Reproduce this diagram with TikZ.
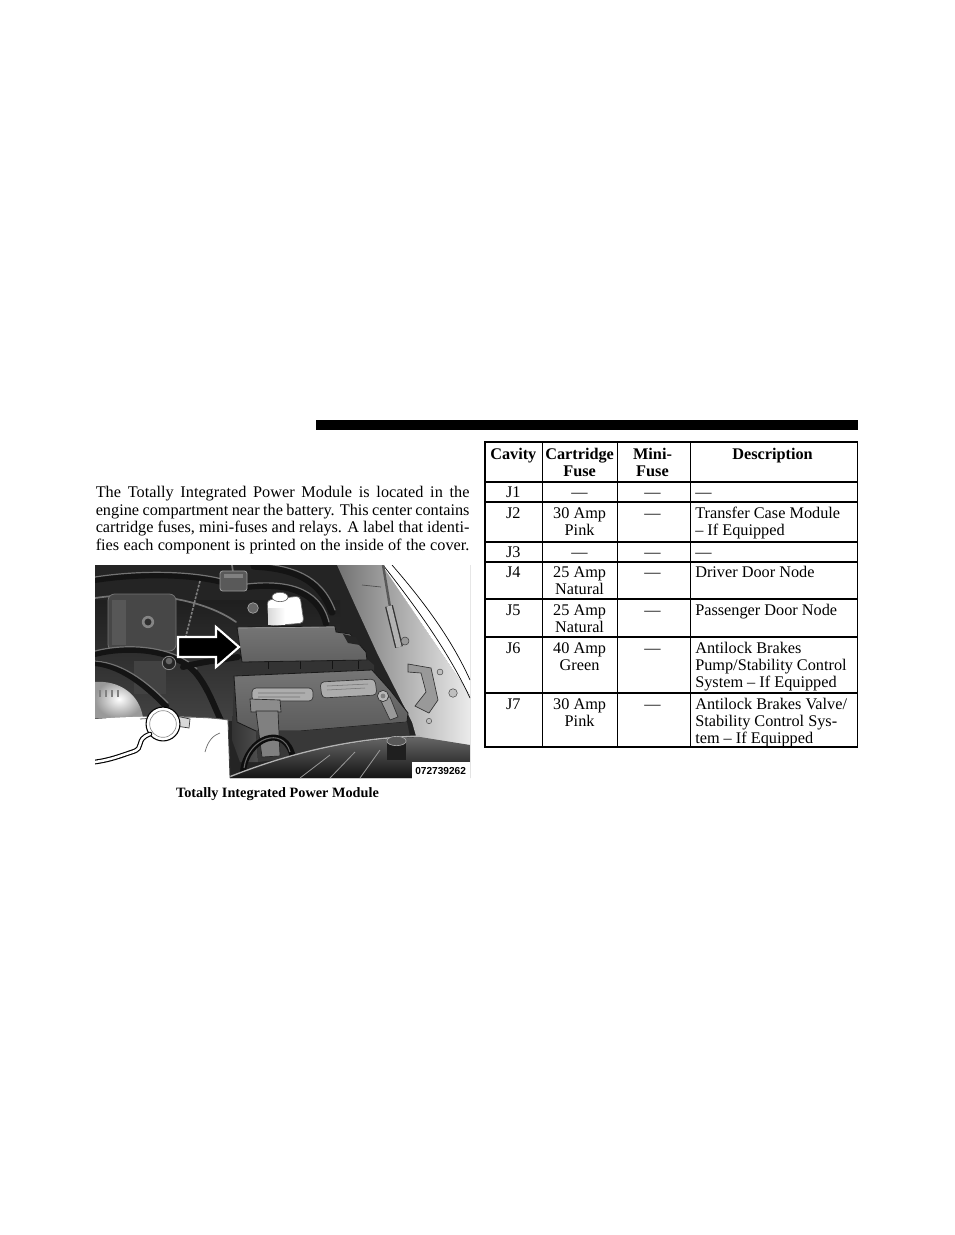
\documentclass[tikz,border=0pt]{standalone}
\usepackage{fontspec}
\setmainfont{Liberation Serif}
\newfontfamily\idfam{Liberation Sans}
\newcommand\tabfont{\fontsize{12.2}{14}\selectfont}
\newcommand\capfont{\fontsize{10.7}{12}\selectfont\bfseries}
\newcommand\idfont{\idfam\bfseries\fontsize{7.6}{8}\selectfont}
\begin{document}
\begin{tikzpicture}[x=0.75pt,y=-0.75pt,
  tl/.style={line width=0.9pt},
  tx/.style={inner sep=0pt,font=\tabfont},
  hd/.style={inner sep=0pt,font=\tabfont\bfseries},
  hose/.style={line width=4.5pt,draw=black!92,line cap=round},
  hl/.style={line width=0.9pt,draw=black!55,line cap=round},
  thinw/.style={line width=1.3pt,draw=black!55,line cap=round}]
\useasboundingbox (0,0) rectangle (954,1235);
\fill[white] (0,0) rectangle (954,1235);

% black bar
\fill[black] (316,420) rectangle (857.5,430);

% ---------- body text ----------
\node[tx,anchor=base west] (p1) at (95.5,497.3) {\makebox[280.3pt][s]{The Totally Integrated Power Module is located in the}};
\node[tx,anchor=base west] (p2) at (95.5,515.0) {\makebox[280.3pt][s]{engine compartment near the battery. This center contains}};
\node[tx,anchor=base west] (p3) at (95.5,532.7) {\makebox[280.3pt][s]{cartridge fuses, mini-fuses and relays. A label that identi-}};
\node[tx,anchor=base west] (p4) at (95.5,550.4) {\makebox[280.3pt][s]{fies each component is printed on the inside of the cover.}};

% ---------- illustration ----------
\begin{scope}
\clip (95,565) rectangle (470,778);
\fill[black!86] (95,565) -- (470,565) -- (470,778) -- (230,778) -- (228,719) -- (95,719) -- cycle;
\shade[top color=black!88,bottom color=black!74] (95,600) rectangle (340,720);
% inner fender panel and white fender
\shade[left color=black!55,right color=black!8] (337,565) -- (382,565) -- (470,695) -- (470,778) -- (428,778) -- (412,722) -- (378,655) -- (355,605) -- cycle;
\fill[white] (382,565) -- (470,565) -- (470,695) -- cycle;
\draw[line width=0.5pt] (383,565) .. controls (420,612) and (450,655) .. (470,698);
\draw[line width=0.5pt] (392,565) .. controls (425,603) and (452,640) .. (470,680);
\draw[line width=0.5pt,black!70] (362,585) -- (381,587);
% hood strut
\draw[line width=1.8pt,black!65] (383,565) -- (390,607);
\draw[line width=6pt,black!80] (389,606) -- (399,647);
\draw[line width=4pt,black!30] (389,606) -- (399,647);
\fill[black!40,draw=black!75] (405,641) circle (3pt);
% bracket and bolts on fender
\draw[fill=black!40,draw=black!80,line width=0.5pt] (408,664) -- (431,668) -- (438,700) -- (429,713) -- (415,706) -- (426,692) -- (421,673) -- (408,672) -- cycle;
\fill[black!25,draw=black!70,line width=0.4pt] (453,693) circle (3.2pt);
\fill[black!25,draw=black!70,line width=0.4pt] (440,672) circle (2.2pt);
\fill[black!25,draw=black!70,line width=0.4pt] (429,721) circle (2pt);

% top hoses and wires
\draw[hose] (95,580) .. controls (140,573) and (190,574) .. (222,582);
\draw[hl] (95,577) .. controls (140,570) and (190,571) .. (222,579);
\draw[hose,line width=5.5pt] (254,566) .. controls (292,568) and (320,578) .. (332,612);
\draw[hl] (254,563) .. controls (292,565) and (322,575) .. (335,610);
\draw[hose] (247,587) .. controls (280,583) and (318,588) .. (326,624);
\draw[hl] (247,584) .. controls (282,580) and (320,585) .. (329,622);
\draw[thinw] (95,598) .. controls (150,590) and (205,600) .. (236,622);
\draw[line width=1.2pt,black!50,dash pattern=on 2pt off 1pt] (200,581) .. controls (195,600) and (190,620) .. (183,648);
\draw[thinw] (233,572) -- (232,565);
% connector block
\fill[black!65,draw=black!40,rounded corners=2pt,line width=0.6pt] (220,571) rectangle (247,591);
\fill[black!50] (224,574) rectangle (243,578);
% bolt near connector
\fill[black!60,draw=black!35,line width=0.5pt] (253,608) circle (4pt);
% coolant reservoir
\fill[white,draw=black!60,line width=0.5pt,rounded corners=3pt] (267,600) -- (300,596) -- (304,623) -- (269,626) -- cycle;
\shade[left color=black!15,right color=white] (268,608) rectangle (285,624);
\fill[white,draw=black!60,line width=0.5pt] (280,597) ellipse (6pt and 3.5pt);

% engine block top left
\fill[black!72,rounded corners=5pt] (108,594) rectangle (176,651);
\draw[black!55,line width=0.6pt,rounded corners=5pt] (108,594) rectangle (176,651);
\fill[black!66] (112,600) rectangle (126,645);
\fill[black!48] (148,622) circle (4.6pt);
\fill[black!82] (148,622) circle (2.6pt);

% middle-left hoses
\fill[black!74] (134,661) rectangle (166,694);
\draw[hose] (95,654) .. controls (130,645) and (175,650) .. (195,672) .. controls (210,690) and (215,710) .. (222,722);
\draw[hl] (95,651) .. controls (130,642) and (176,647) .. (197,669);
\draw[hose] (95,663) .. controls (125,666) and (150,690) .. (166,706);
\draw[hl] (95,661) .. controls (126,663) and (152,687) .. (168,703);
\draw[hose] (183,667) .. controls (200,662) and (220,660) .. (238,657);
\fill[black!85,draw=black!45,line width=0.6pt] (169,663) circle (5pt);
\fill[black!60] (169,661) circle (2.5pt);
% pulley / gear
\shade[inner color=white,outer color=black!40] (95,682) .. controls (120,680) and (140,695) .. (143,718) -- (95,718) -- cycle;
\foreach \gx in {100,106,112,118} \draw[black!50,line width=1pt] (\gx,690) -- (\gx,697);

% TIPM (power module)
\fill[black!80] (241,661) -- (367,659) -- (374,665) -- (374,673) -- (243,674) -- cycle;
\foreach \nx in {268,300,332,358} \draw[black!92,line width=0.6pt] (\nx,661) -- (\nx,669);
\shade[top color=black!54,bottom color=black!62,draw=black!90,line width=0.6pt] (237,627) -- (335,626) -- (336,632) -- (350,634) -- (366,652) -- (367,660) -- (242,662) -- cycle;
\fill[black!85] (343,634) -- (356,637) -- (360,645) -- (348,643) -- cycle;
\draw[black!40,line width=0.5pt] (239,628) -- (334,627);

% battery
\shade[left color=black!80,right color=black!70] (234,676) -- (237,722) -- (256,731) -- (258,762) -- (240,762) -- (232,740) -- cycle;
\shade[top color=black!54,bottom color=black!64,draw=black!90,line width=0.6pt] (234,676) -- (372,670) -- (390,690) -- (408,713) -- (407,722) -- (300,731) -- (256,731) -- (237,722) -- cycle;
\fill[black!78] (256,731) -- (300,731) -- (407,722) -- (410,737) -- (300,757) -- (258,762) -- cycle;
\fill[black!32,draw=black!80,line width=0.5pt,rounded corners=3pt] (252,688) rectangle (313,701);
\fill[black!32,draw=black!80,line width=0.5pt,rounded corners=3pt] (320,682) -- (375,679) -- (377,695) -- (322,698) -- cycle;
\draw[black!55,line width=0.4pt] (258,693) -- (305,693) (258,697) -- (300,697) (327,686) -- (368,684) (327,690) -- (365,688);
\fill[black!40,draw=black!80,line width=0.5pt] (380,699) -- (390,697) -- (398,717) -- (390,720) -- cycle;
\fill[black!28,draw=black!80,line width=0.5pt] (383,696) circle (4.2pt);
\fill[black!50] (383,696) circle (1.8pt);
% terminal clamp left
\fill[black!45,draw=black!85,line width=0.5pt] (250,699) -- (280,700) -- (281,712) -- (251,712) -- cycle;
\fill[black!50,draw=black!85,line width=0.5pt] (256,711) -- (278,711) -- (280,756) -- (262,757) -- cycle;
% battery cable
\draw[line width=4.5pt,black!95,line cap=round] (243,772) .. controls (246,738) and (286,722) .. (293,758);
\draw[line width=0.8pt,black!60] (244,768) .. controls (248,738) and (283,726) .. (290,752);

% bottom cowl
\shade[top color=black!60,bottom color=black!92] (229,778) .. controls (300,750) and (360,739) .. (420,737) -- (470,745) -- (470,778) -- cycle;
\draw[black!30,line width=1pt] (229,777) .. controls (300,749) and (360,738) .. (420,736);
\draw[black!40,line width=0.6pt] (300,778) -- (330,755) (330,778) -- (355,752) (360,778) -- (380,750);
% brake fluid cap
\fill[black!88] (387,741) rectangle (406,760);
\fill[black!65,draw=black!35,line width=0.5pt] (396.5,741) ellipse (7.2pt and 3.5pt);

% bottom-left reservoir
\fill[white] (95,719) .. controls (150,715) and (200,716) .. (228,720) -- (230,779) -- (95,779) -- cycle;
\draw[black!60,line width=0.6pt] (140,719) .. controls (180,716) and (210,717) .. (228,720);
\draw[black!75,line width=0.6pt] (228,720) -- (230,778);
\draw[black!60,line width=0.5pt] (205,752) .. controls (208,740) and (214,735) .. (220,733);
\draw[fill=black!15,draw=black!80,line width=0.5pt] (176,716) -- (190,719) -- (189,728) -- (176,726) -- cycle;
\draw[fill=white,draw=black,line width=0.8pt] (163,724) circle (12.7pt);
\draw[black!45,line width=0.5pt] (163,724) circle (10pt);
\draw[line width=3.6pt,black,line cap=round] (150,734) .. controls (134,740) and (146,748) .. (132,752) .. controls (120,756) and (110,760) .. (95,762);
\draw[line width=1.9pt,white,line cap=round] (150,734) .. controls (134,740) and (146,748) .. (132,752) .. controls (120,756) and (110,760) .. (95,762);

% arrow
\draw[fill=black,draw=white,line width=1.6pt,line join=miter] (178,637) -- (216,637) -- (216,627) -- (239,647) -- (216,667) -- (216,657) -- (178,657) -- cycle;

% label
\fill[white] (412,762) rectangle (470,779);
\end{scope}
\node[anchor=base west,inner sep=0pt,font=\idfont] (imgid) at (415,774) {072739262};
\node[anchor=base,inner sep=0pt,font=\capfont] (cap) at (277.5,797.5) {Totally Integrated Power Module};

% ---------- table ----------
\draw[tl] (485,442) rectangle (857.5,747);
\foreach \yy in {482,502,542,562,599,637,693} \draw[tl] (485,\yy) -- (857.5,\yy);
\foreach \xx in {542.3,617.5,690.5} \draw[tl] (\xx,442) -- (\xx,747);

\node[hd,anchor=base] (hcav) at (513.3,459.5) {Cavity};
\node[hd,anchor=base] (hcar1) at (579.6,459.5) {Cartridge};
\node[hd,anchor=base] (hcar2) at (579.6,476.5) {Fuse};
\node[hd,anchor=base] (hmin1) at (652.5,459.5) {Mini-};
\node[hd,anchor=base] (hmin2) at (652.5,476.5) {Fuse};
\node[hd,anchor=base] (hdes) at (772.5,459.5) {Description};

% J1
\node[tx,anchor=base] (c1) at (513.3,497) {J1};
\node[tx,anchor=base] (f1) at (579.6,497) {—};
\node[tx,anchor=base] (m1) at (652.5,497) {—};
\node[tx,anchor=base west] (d1) at (695,497) {—};
% J2
\node[tx,anchor=base] (c2) at (513.3,518) {J2};
\node[tx,anchor=base] (f2a) at (579.6,518) {30 Amp};
\node[tx,anchor=base] (f2b) at (579.6,535) {Pink};
\node[tx,anchor=base] (m2) at (652.5,518) {—};
\node[tx,anchor=base west] (d2a) at (695,518) {Transfer Case Module};
\node[tx,anchor=base west] (d2b) at (695,535) {– If Equipped};
% J3
\node[tx,anchor=base] (c3) at (513.3,557.5) {J3};
\node[tx,anchor=base] (f3) at (579.6,557.5) {—};
\node[tx,anchor=base] (m3) at (652.5,557.5) {—};
\node[tx,anchor=base west] (d3) at (695,557.5) {—};
% J4
\node[tx,anchor=base] (c4) at (513.3,577.5) {J4};
\node[tx,anchor=base] (f4a) at (579.6,577.5) {25 Amp};
\node[tx,anchor=base] (f4b) at (579.6,594.5) {Natural};
\node[tx,anchor=base] (m4) at (652.5,577.5) {—};
\node[tx,anchor=base west] (d4) at (695,577.5) {Driver Door Node};
% J5
\node[tx,anchor=base] (c5) at (513.3,615) {J5};
\node[tx,anchor=base] (f5a) at (579.6,615) {25 Amp};
\node[tx,anchor=base] (f5b) at (579.6,632) {Natural};
\node[tx,anchor=base] (m5) at (652.5,615) {—};
\node[tx,anchor=base west] (d5) at (695,615) {Passenger Door Node};
% J6
\node[tx,anchor=base] (c6) at (513.3,653) {J6};
\node[tx,anchor=base] (f6a) at (579.6,653) {40 Amp};
\node[tx,anchor=base] (f6b) at (579.6,670) {Green};
\node[tx,anchor=base] (m6) at (652.5,653) {—};
\node[tx,anchor=base west] (d6a) at (695,653) {Antilock Brakes};
\node[tx,anchor=base west] (d6b) at (695,670) {Pump/Stability Control};
\node[tx,anchor=base west] (d6c) at (695,687) {System – If Equipped};
% J7
\node[tx,anchor=base] (c7) at (513.3,709) {J7};
\node[tx,anchor=base] (f7a) at (579.6,709) {30 Amp};
\node[tx,anchor=base] (f7b) at (579.6,726) {Pink};
\node[tx,anchor=base] (m7) at (652.5,709) {—};
\node[tx,anchor=base west] (d7a) at (695,709) {Antilock Brakes Valve/};
\node[tx,anchor=base west] (d7b) at (695,726) {Stability Control Sys-};
\node[tx,anchor=base west] (d7c) at (695,743) {tem – If Equipped};
\end{tikzpicture}
\end{document}
